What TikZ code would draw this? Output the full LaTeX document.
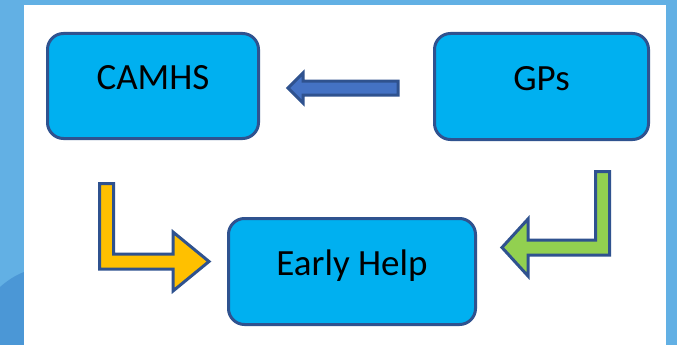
\documentclass[tikz,border=0pt]{standalone}
\usepackage{fontspec}
\setmainfont{Carlito}
\usepackage{xcolor}
\usetikzlibrary{positioning}

\definecolor{slideblue}{HTML}{62B0E4}
\definecolor{slidedark}{HTML}{4B97D6}
\definecolor{boxfill}{HTML}{00B0F0}
\definecolor{boxline}{HTML}{2F528F}
\definecolor{arrowblue}{HTML}{4472C4}
\definecolor{arrowyellow}{HTML}{FFC000}
\definecolor{arrowgreen}{HTML}{92D050}

\tikzset{
	servicebox/.style={draw=boxline, fill=boxfill, line width=3pt, rounded corners=16pt,
		font=\fontsize{37}{44}\selectfont, text height=25pt, text depth=18pt},
	blockarrow/.style={draw=boxline, line width=3pt, line join=miter}
}

\begin{document}
\begin{tikzpicture}[x=1pt, y=-1pt]
				\useasboundingbox (0,0) rectangle (677,345);
				% slide background
				\fill[slideblue] (0,0) rectangle (677,345);
				\fill[slidedark] (0,345) -- (0,287) .. controls (8,280) and (16,275) .. (24,272) -- (24,345) -- cycle;
				\fill[white] (24,5) rectangle (666,345);
				% the three services
				\node[servicebox, minimum width=211pt, minimum height=105pt] (camhs) at (153,86) {CAMHS};
				\node[servicebox, minimum width=214pt, minimum height=106pt] (gps) at (541.5,86.5) {GPs};
				\node[servicebox, minimum width=247pt, minimum height=106pt] (earlyhelp) at (352,271.5) {Early Help};
				% block arrows
				\draw[blockarrow, fill=arrowblue] (288,88) -- (303,73) -- (303,81) -- (398,81) -- (398,95) -- (303,95) -- (303,103) -- cycle;
				\draw[blockarrow, fill=arrowyellow] (99.5,183.5) -- (113.5,183.5) -- (113.5,254) -- (173,254) -- (173,232) -- (209,261.5) -- (173,291) -- (173,269) -- (99.5,269) -- cycle;
				\draw[blockarrow, fill=arrowgreen] (609.5,171.5) -- (595.5,171.5) -- (595.5,240) -- (528,240) -- (528,219) -- (502,247.5) -- (528,276) -- (528,255) -- (609.5,255) -- cycle;
			\end{tikzpicture}
\end{document}
